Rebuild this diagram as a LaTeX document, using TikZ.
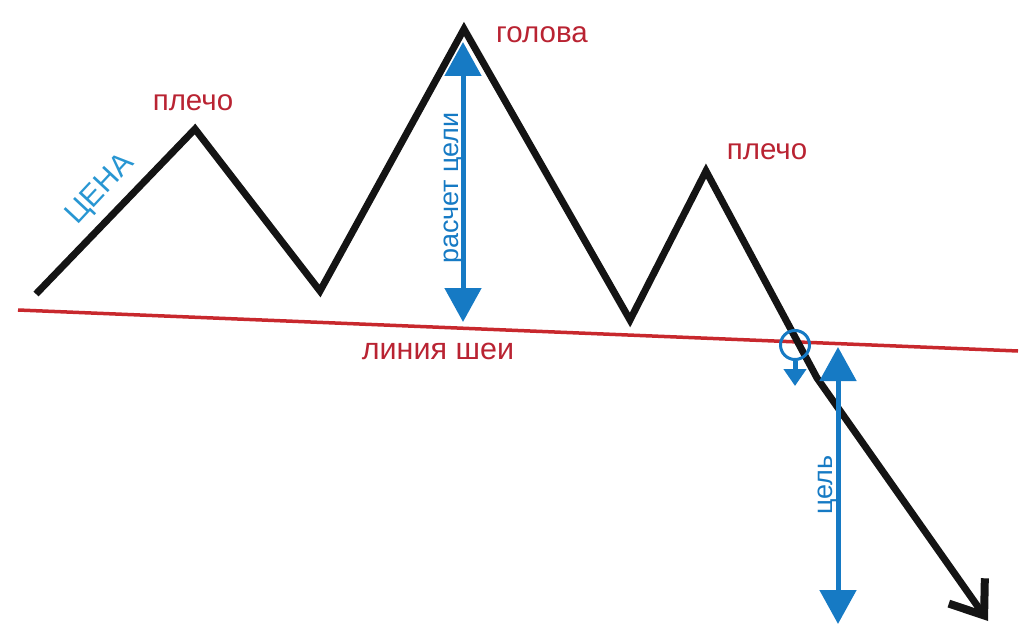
\documentclass[tikz,border=0pt]{standalone}
\usepackage{fontspec}
\setmainfont{Liberation Sans}
\usetikzlibrary{arrows.meta}
\definecolor{pblack}{RGB}{20,20,20}
\definecolor{nred}{RGB}{200,40,45}
\definecolor{tred}{RGB}{185,35,50}
\definecolor{tblue}{RGB}{22,122,196}
\definecolor{cblue}{RGB}{40,150,210}
\tikzset{
  price/.style={draw=pblack,line width=7pt,line join=miter,line cap=butt},
  neck/.style={draw=nred,line width=3.5pt},
  redlabel/.style={text=tred,font=\fontsize{29.5}{31}\selectfont,inner sep=0pt},
  bluelabel/.style={text=tblue,font=\fontsize{27}{29}\selectfont,inner sep=0pt},
  measure/.style={draw=tblue,line width=5pt,{Triangle[length=34pt,width=36pt]}-{Triangle[length=34pt,width=36pt]}},
  breakarrow/.style={draw=tblue,line width=5pt,-{Triangle[length=17pt,width=22pt]}},
  ring/.style={draw=tblue,line width=3pt},
}
\begin{document}
\begin{tikzpicture}[x=1pt,y=-1pt]
\useasboundingbox (0,0) rectangle (1031,642);
% price path points
\coordinate (p0) at (36,294);
\coordinate (ls) at (195,129);
\coordinate (t1) at (320,291);
\coordinate (hd) at (464,29);
\coordinate (t2) at (630,320);
\coordinate (rs) at (706,171);
\coordinate (bk) at (817,378);
\coordinate (end) at (988,621);
% neckline
\coordinate (n0) at (18,310);
\coordinate (n1) at (1018,351);
\draw[neck] (n0) -- (n1);
% price line
\draw[price,-{Straight Barb[length=30pt,width=44pt,line width=8pt]}] (p0) -- (ls) -- (t1) -- (hd) -- (t2) -- (rs) -- (bk) -- (end);
% head measure
\coordinate (m0) at (463,42);
\coordinate (m1) at (463,322);
\draw[measure] (m0) -- (m1);
% target
\coordinate (g0) at (838,347);
\coordinate (g1) at (838,624);
\draw[measure] (g0) -- (g1);
% breakout ring and arrow
\node[ring,circle,minimum size=29pt,inner sep=0pt] (ringn) at (795,345) {};
\coordinate (ba) at (795,386);
\draw[breakarrow] (ringn.south) -- (ba);
% labels
\node[redlabel] (lab1) at (193,103) {плечо};
\node[redlabel] (lab2) at (542,35) {голова};
\node[redlabel] (lab3) at (767,152) {плечо};
\node[redlabel,font=\fontsize{30.5}{32}\selectfont] (lab4) at (438,351) {линия шеи};
\node[bluelabel,rotate=90,anchor=base] (lab5) at (458,188) {расчет цели};
\node[bluelabel,rotate=90,anchor=base] (lab6) at (832,485) {цель};
\node[text=cblue,font=\fontsize{30}{32}\selectfont,inner sep=0pt,rotate=47] (lab7) at (101,190) {ЦЕНА};
\end{tikzpicture}
\end{document}
